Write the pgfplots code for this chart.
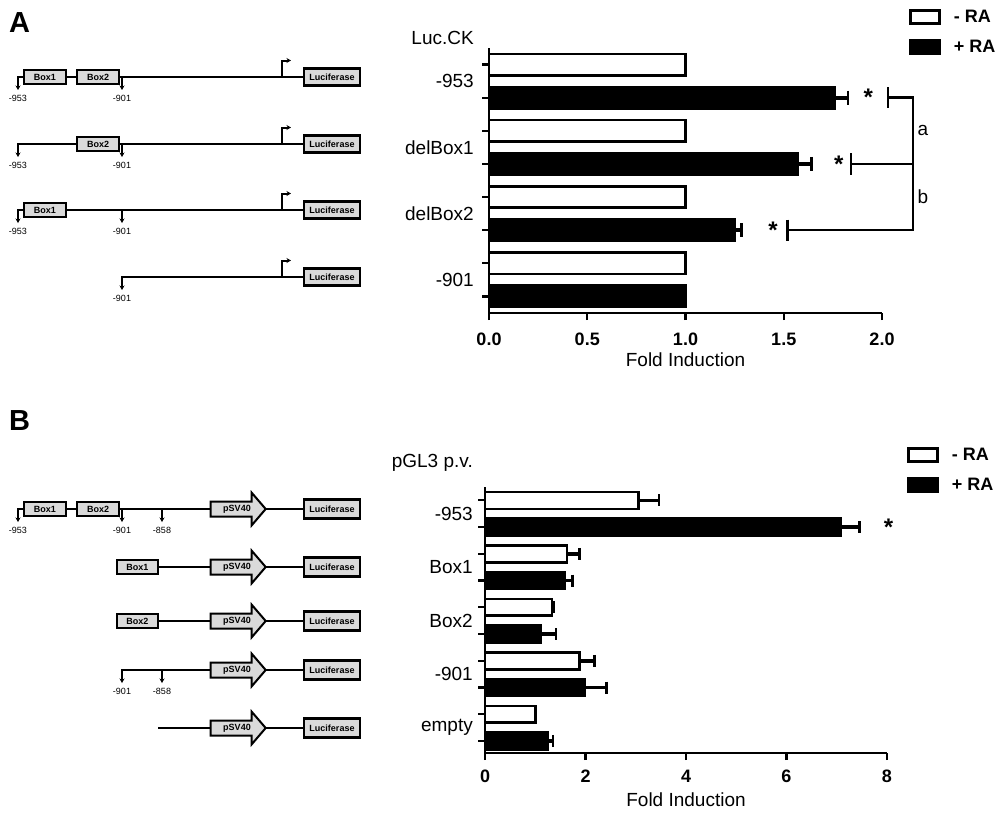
\documentclass[border=0pt]{standalone}
\usepackage{pgfplots}
\pgfplotsset{compat=1.18}
\usepackage{fontspec}
\setmainfont{Liberation Sans}
\usetikzlibrary{arrows.meta}
\definecolor{boxgray}{RGB}{218,218,218}
\newcommand{\chartfont}{\fontsize{19}{22}\selectfont}
\newcommand{\tickfont}{\fontsize{18}{21}\selectfont\bfseries}
\newcommand{\smallfont}{\fontsize{9}{10}\selectfont}
\tikzset{
 dl/.style={line width=2pt},
 dar/.style={line width=2pt, -{Stealth[length=4.5pt,width=5pt]}},
 gbox/.style={draw=black, line width=2pt, fill=boxgray},
 lbox/.style={draw=black, line width=2.8pt, fill=boxgray},
 stxt/.style={font=\smallfont\bfseries, inner sep=0pt},
 ntxt/.style={font=\smallfont, inner sep=0pt},
}
% box: x1, y, x2, text
\newcommand{\gbx}[4]{\draw[gbox] (#1,#2-7) rectangle (#3,#2+7); \node[stxt] at ({(#1+#3)/2},#2) {#4};}
% luciferase: y, half height
\newcommand{\luc}[2]{\draw[lbox] (304,#1-#2) rectangle (360,#1+#2); \node[stxt] at (332,#1) {Luciferase};}
% transcription start
\newcommand{\tss}[1]{\draw[dar] (282,#1) -- (282,#1-16.5) -- (291,#1-16.5);}
% down arrow: x, y, label
\newcommand{\darr}[3]{\draw[dar] (#1,#2) -- (#1,#2+13); \node[ntxt] at (#1,#2+21) {#3};}
% bent arrow: x of arrow, start x, y, label
\newcommand{\bent}[4]{\draw[dar] (#2,#3) -- (#1,#3) -- (#1,#3+13); \node[ntxt] at (#1,#3+21) {#4};}
% pSV40 promoter arrow: y
\newcommand{\psv}[1]{\draw[gbox] (210.7,#1-7.5) -- (251.7,#1-7.5) -- (251.7,#1-16.3) -- (265.7,#1) -- (251.7,#1+16.3) -- (251.7,#1+7.5) -- (210.7,#1+7.5) -- cycle; \node[stxt] at (237,#1) {pSV40};}
\pgfplotsset{
  rachart/.style={
    scale only axis,
    anchor=south west,
    axis x line*=bottom, axis y line*=left,
    axis line style={line width=2.6pt, black},
    tick align=outside,
    major tick length=7pt,
    tick style={line width=2.2pt, black},
    yticklabels={},
    clip=false,
    scaled x ticks=false,
    typeset ticklabels with strut,
    xticklabel style={font=\tickfont},
    /pgf/number format/assume math mode=true,
    xlabel style={font=\chartfont, at={(axis description cs:0.5,-0.177)}, anchor=center},
    legend style={draw=none, fill=none, font=\tickfont, inner sep=0pt, row sep=12pt, legend cell align=left},
  },
  wbar/.style={xbar, bar width=#1, bar shift=0pt, draw=black, fill=white, line width=2.6pt, forget plot},
  bbar/.style={xbar, bar width=#1, bar shift=0pt, draw=black, fill=black, line width=2.6pt, forget plot},
  eb/.style={error bars/x dir=plus, error bars/x explicit, error bars/error mark=|,
    error bars/error bar style={line width=3.6pt, black},
    error bars/error mark options={line width=2.6pt, mark size=#1, black}},
}
\newcommand{\legimg}[1]{\addlegendimage{legend image code/.code={\draw[fill=#1, draw=black, line width=2.6pt] (0pt,-6.5pt) rectangle (29pt,6.5pt); \path (41pt,0pt);}}}
\begin{document}
\begin{tikzpicture}
\path[use as bounding box] (0pt,0pt) rectangle (995pt,-812pt);
\node[anchor=base west, font=\fontsize{29}{30}\selectfont\bfseries, inner sep=0pt] at (9pt,-32pt) {A};
\node[anchor=base west, font=\fontsize{29}{30}\selectfont\bfseries, inner sep=0pt] at (9pt,-430pt) {B};
\begin{scope}[x=1pt,y=-1pt, line join=miter]
% ---------- panel A schematics ----------
% row 1
\bent{18}{24}{77}{-953}
\gbx{24}{77}{65.7}{Box1}
\draw[dl] (65.7,77) -- (77.3,77);
\gbx{77.3}{77}{119}{Box2}
\draw[dl] (119,77) -- (304,77);
\darr{122}{77}{-901}
\tss{77}
\luc{77}{8.3}
% row 2
\bent{18}{77.3}{144}{-953}
\gbx{77.3}{144}{119}{Box2}
\draw[dl] (119,144) -- (304,144);
\darr{122}{144}{-901}
\tss{144}
\luc{144}{8.3}
% row 3
\bent{18}{24}{210}{-953}
\gbx{24}{210}{65.7}{Box1}
\draw[dl] (65.7,210) -- (304,210);
\darr{122}{210}{-901}
\tss{210}
\luc{210}{8.3}
% row 4
\bent{122}{304}{277}{-901}
\tss{277}
\luc{277}{8.3}
% ---------- panel B schematics ----------
% row 1
\bent{18}{24}{509}{-953}
\gbx{24}{509}{65.7}{Box1}
\draw[dl] (65.7,509) -- (77.3,509);
\gbx{77.3}{509}{119}{Box2}
\draw[dl] (119,509) -- (210.7,509);
\darr{122}{509}{-901}
\darr{162}{509}{-858}
\psv{509}
\draw[dl] (265.7,509) -- (304,509);
\luc{509}{9.5}
% row 2
\gbx{116.7}{567}{158.3}{Box1}
\draw[dl] (158.3,567) -- (210.7,567);
\psv{567}
\draw[dl] (265.7,567) -- (304,567);
\luc{567}{9.5}
% row 3
\gbx{116.7}{621}{158.3}{Box2}
\draw[dl] (158.3,621) -- (210.7,621);
\psv{621}
\draw[dl] (265.7,621) -- (304,621);
\luc{621}{9.5}
% row 4
\bent{122}{210.7}{670}{-901}
\darr{162}{670}{-858}
\psv{670}
\draw[dl] (265.7,670) -- (304,670);
\luc{670}{9.5}
% row 5
\draw[dl] (158.3,728) -- (210.7,728);
\psv{728}
\draw[dl] (265.7,728) -- (304,728);
\luc{728}{9.5}
\end{scope}

% ---------- panel A chart ----------
\begin{axis}[rachart, at={(489pt,-313pt)}, width=393pt, height=265pt,
  xmin=0, xmax=2, ymin=0.5, ymax=8.5,
  xtick={0,0.5,1,1.5,2}, ytick={1,...,8},
  xticklabel style={yshift=-7pt, /pgf/number format/fixed, /pgf/number format/fixed zerofill, /pgf/number format/precision=1},
  xlabel={Fold Induction},
  legend style={at={(axis description cs:1.069,1.151)}, anchor=north west}]
\legimg{white}
\addlegendentry{- RA}
\legimg{black}
\addlegendentry{+ RA}
\addplot[wbar=0.645] coordinates {(1.0,8) (1.0,6) (1.0,4) (1.0,2)};
\addplot[bbar=0.645, eb=7pt]
  coordinates {(1.76,7) +- (0.066,0) (1.57,5) +- (0.070,0) (1.25,3) +- (0.034,0)};
\addplot[bbar=0.645] coordinates {(1.0,1)};
\node[anchor=east, inner sep=0pt, font=\chartfont, xshift=-15pt] at (axis cs:0,8.8) {Luc.CK};
\node[anchor=east, inner sep=0pt, font=\chartfont, xshift=-15pt] at (axis cs:0,7.5) {-953};
\node[anchor=east, inner sep=0pt, font=\chartfont, xshift=-15pt] at (axis cs:0,5.5) {delBox1};
\node[anchor=east, inner sep=0pt, font=\chartfont, xshift=-15pt] at (axis cs:0,3.5) {delBox2};
\node[anchor=east, inner sep=0pt, font=\chartfont, xshift=-15pt] at (axis cs:0,1.5) {-901};
% significance brackets
\draw[line width=2.6pt] (axis cs:2.03,7.32) -- (axis cs:2.03,6.68);
\draw[line width=2.6pt, line join=miter] (axis cs:2.03,7) -- (axis cs:2.158,7) -- (axis cs:2.158,3) -- (axis cs:1.52,3);
\draw[line width=2.6pt] (axis cs:1.842,5) -- (axis cs:2.158,5);
\draw[line width=2.6pt] (axis cs:1.842,5.32) -- (axis cs:1.842,4.68);
\draw[line width=2.6pt] (axis cs:1.52,3.32) -- (axis cs:1.52,2.68);
\node[font=\fontsize{24}{24}\selectfont\bfseries] at (axis cs:1.93,7) {*};
\node[font=\fontsize{24}{24}\selectfont\bfseries] at (axis cs:1.78,5) {*};
\node[font=\fontsize{24}{24}\selectfont\bfseries] at (axis cs:1.445,3) {*};
\node[font=\chartfont] at (axis cs:2.208,6) {a};
\node[font=\chartfont] at (axis cs:2.208,4) {b};
\end{axis}

% ---------- panel B chart ----------
\begin{axis}[rachart, at={(485pt,-753pt)}, width=402pt, height=266pt,
  xmin=0, xmax=8, ymin=0.55, ymax=10.5,
  xtick={0,2,4,6,8}, ytick={1,...,10},
  xticklabel style={yshift=-4pt},
  xlabel={Fold Induction},
  legend style={at={(axis description cs:1.05,1.154)}, anchor=north west}]
\legimg{white}
\addlegendentry{- RA}
\legimg{black}
\addlegendentry{+ RA}
\addplot[wbar=0.63, eb=6pt]
  coordinates {(3.06,10) +- (0.40,0) (1.63,8) +- (0.25,0) (1.33,6) +- (0.04,0) (1.88,4) +- (0.30,0)};
\addplot[wbar=0.63] coordinates {(1.0,2)};
\addplot[bbar=0.63, eb=6pt]
  coordinates {(7.08,9) +- (0.37,0) (1.58,7) +- (0.16,0) (1.10,5) +- (0.31,0) (1.99,3) +- (0.43,0) (1.24,1) +- (0.11,0)};
\node[anchor=east, inner sep=0pt, font=\chartfont, xshift=-12pt] at (axis cs:0,11.4) {pGL3 p.v.};
\node[anchor=east, inner sep=0pt, font=\chartfont, xshift=-12pt] at (axis cs:0,9.5) {-953};
\node[anchor=east, inner sep=0pt, font=\chartfont, xshift=-12pt] at (axis cs:0,7.5) {Box1};
\node[anchor=east, inner sep=0pt, font=\chartfont, xshift=-12pt] at (axis cs:0,5.5) {Box2};
\node[anchor=east, inner sep=0pt, font=\chartfont, xshift=-12pt] at (axis cs:0,3.5) {-901};
\node[anchor=east, inner sep=0pt, font=\chartfont, xshift=-12pt] at (axis cs:0,1.5) {empty};
\node[font=\fontsize{24}{24}\selectfont\bfseries] at (axis cs:8.03,9) {*};
\end{axis}
\end{tikzpicture}
\end{document}
